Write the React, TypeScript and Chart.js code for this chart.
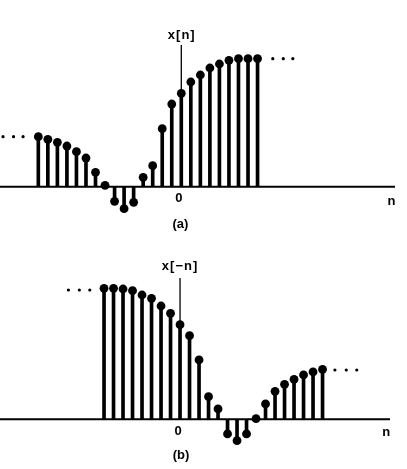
import React, { useEffect, useRef } from "react";
import { Chart, registerables } from "chart.js";

Chart.register(...registerables);

// ---- data: (a) x[n] ----
const nA = [-15, -14, -13, -12, -11, -10, -9, -8, -7, -6, -5, -4, -3, -2, -1, 0, 1, 2, 3, 4, 5, 6, 7, 8];
const xnValues = [1.5, 1.42, 1.33, 1.22, 1.05, 0.86, 0.43, 0.04, -0.44, -0.66, -0.47, 0.28, 0.63, 1.74, 2.48, 2.8, 3.14, 3.35, 3.56, 3.68, 3.79, 3.84, 3.84, 3.84];
const ellipsisA_left = [-18.7, -17.6, -16.6];
const ellipsisA_leftLevel = 1.5;
const ellipsisA_right = [9.6, 10.7, 11.7];
const ellipsisA_rightLevel = 3.84;

// ---- data: (b) x[-n] ----
const nB = [-8, -7, -6, -5, -4, -3, -2, -1, 0, 1, 2, 3, 4, 5, 6, 7, 8, 9, 10, 11, 12, 13, 14, 15];
const xMinusNValues = [3.93, 3.93, 3.91, 3.86, 3.73, 3.63, 3.4, 3.18, 2.84, 2.51, 1.78, 0.68, 0.31, -0.44, -0.64, -0.44, 0.02, 0.46, 0.84, 1.05, 1.2, 1.33, 1.42, 1.5];
const ellipsisB_left = [-11.75, -10.6, -9.5];
const ellipsisB_leftLevel = 3.88;
const ellipsisB_right = [16.3, 17.5, 18.6];
const ellipsisB_rightLevel = 1.48;

const FONT = 'bold 13px "Liberation Sans", Arial, sans-serif';

const labelPlugin = {
  id: "textLabels",
  afterDatasetsDraw(chart: any, _args: any, opts: any) {
    const { ctx, scales } = chart;
    const x = scales.x;
    const y = scales.y;
    ctx.save();
    ctx.fillStyle = "#000";
    ctx.textAlign = "center";
    ctx.textBaseline = "middle";
    for (const l of opts.items || []) {
      ctx.font = l.font || FONT;
      try {
        (ctx as any).letterSpacing = l.spacing || "0px";
      } catch (e) {}
      ctx.fillText(l.text, x.getPixelForValue(l.x), y.getPixelForValue(l.y));
    }
    ctx.restore();
  },
};

type StemProps = {
  width: number;
  height: number;
  ns: number[];
  values: number[];
  xMin: number;
  xMax: number;
  yMin: number;
  yMax: number;
  axisEnd: number;
  vLineTop: number;
  eLeft: number[];
  eLeftLevel: number;
  eRight: number[];
  eRightLevel: number;
  labels: { text: string; x: number; y: number; font?: string; spacing?: string }[];
};

function StemPlot(p: StemProps) {
  const ref = useRef<HTMLCanvasElement | null>(null);
  useEffect(() => {
    if (!ref.current) return;
    const stems = p.ns.map((n, i) => ({ x: n, y: p.values[i] }));
    const zeroIdx = p.ns.indexOf(0);
    const chart = new Chart(ref.current, {
      type: "scatter",
      data: {
        datasets: [
          {
            type: "scatter",
            data: stems,
            pointRadius: 4.4,
            pointBackgroundColor: "#000",
            pointBorderWidth: 0,
            order: 0,
          } as any,
          {
            type: "scatter",
            data: [
              ...p.eLeft.map((x) => ({ x, y: p.eLeftLevel })),
              ...p.eRight.map((x) => ({ x, y: p.eRightLevel })),
            ],
            pointRadius: 1.6,
            pointBackgroundColor: "#000",
            pointBorderWidth: 0,
            order: 0,
          } as any,
          {
            type: "bar",
            data: stems,
            backgroundColor: "#000",
            barThickness: 3,
            grouped: false,
            order: 1,
          } as any,
          {
            type: "line",
            data: [
              { x: p.xMin, y: 0 },
              { x: p.axisEnd, y: 0 },
            ],
            borderColor: "#000",
            borderWidth: 2,
            pointRadius: 0,
            order: 2,
          } as any,
          {
            type: "line",
            data: [
              { x: 0, y: p.values[zeroIdx] },
              { x: 0, y: p.vLineTop },
            ],
            borderColor: "#000",
            borderWidth: 1.3,
            pointRadius: 0,
            order: 2,
          } as any,
        ],
      },
      options: {
        animation: false,
        responsive: false,
        devicePixelRatio: 1,
        layout: { padding: 0, autoPadding: false } as any,
        scales: {
          x: { type: "linear", min: p.xMin, max: p.xMax, display: false, offset: false, grid: { offset: false } },
          y: { type: "linear", min: p.yMin, max: p.yMax, display: false, offset: false },
        },
        plugins: {
          legend: { display: false },
          tooltip: { enabled: false },
          textLabels: { items: p.labels },
        } as any,
      },
      plugins: [labelPlugin],
    });
    return () => chart.destroy();
  }, []);
  return <canvas ref={ref} width={p.width} height={p.height} style={{ display: "block", width: p.width, height: p.height }} />;
}

export default function App() {
  return (
    <div style={{ position: "absolute", left: 0, top: 0, width: 407, height: 469, background: "#fff" }}>
      <StemPlot
        width={407}
        height={234}
        ns={nA}
        values={xnValues}
        xMin={-19.02}
        xMax={23.68}
        yMin={-1.419}
        yMax={5.6}
        axisEnd={22.42}
        vLineTop={4.25}
        eLeft={ellipsisA_left}
        eLeftLevel={ellipsisA_leftLevel}
        eRight={ellipsisA_right}
        eRightLevel={ellipsisA_rightLevel}
        labels={[
          { text: "x[n]", x: 0.05, y: 4.55, spacing: "1px" },
          { text: "0", x: -0.25, y: -0.34 },
          { text: "n", x: 22.06, y: -0.43 },
          { text: "(a)", x: -0.1, y: -1.13 },
        ]}
      />
      <StemPlot
        width={407}
        height={235}
        ns={nB}
        values={xMinusNValues}
        xMin={-18.95}
        xMax={23.89}
        yMin={-1.491}
        yMax={5.56}
        axisEnd={22.1}
        vLineTop={4.24}
        eLeft={ellipsisB_left}
        eLeftLevel={ellipsisB_leftLevel}
        eRight={ellipsisB_right}
        eRightLevel={ellipsisB_rightLevel}
        labels={[
          { text: "x[\u2212n]", x: 0.0, y: 4.6, spacing: "1px" },
          { text: "0", x: -0.2, y: -0.35 },
          { text: "n", x: 21.7, y: -0.38 },
          { text: "(b)", x: 0.1, y: -1.07 },
        ]}
      />
    </div>
  );
}
